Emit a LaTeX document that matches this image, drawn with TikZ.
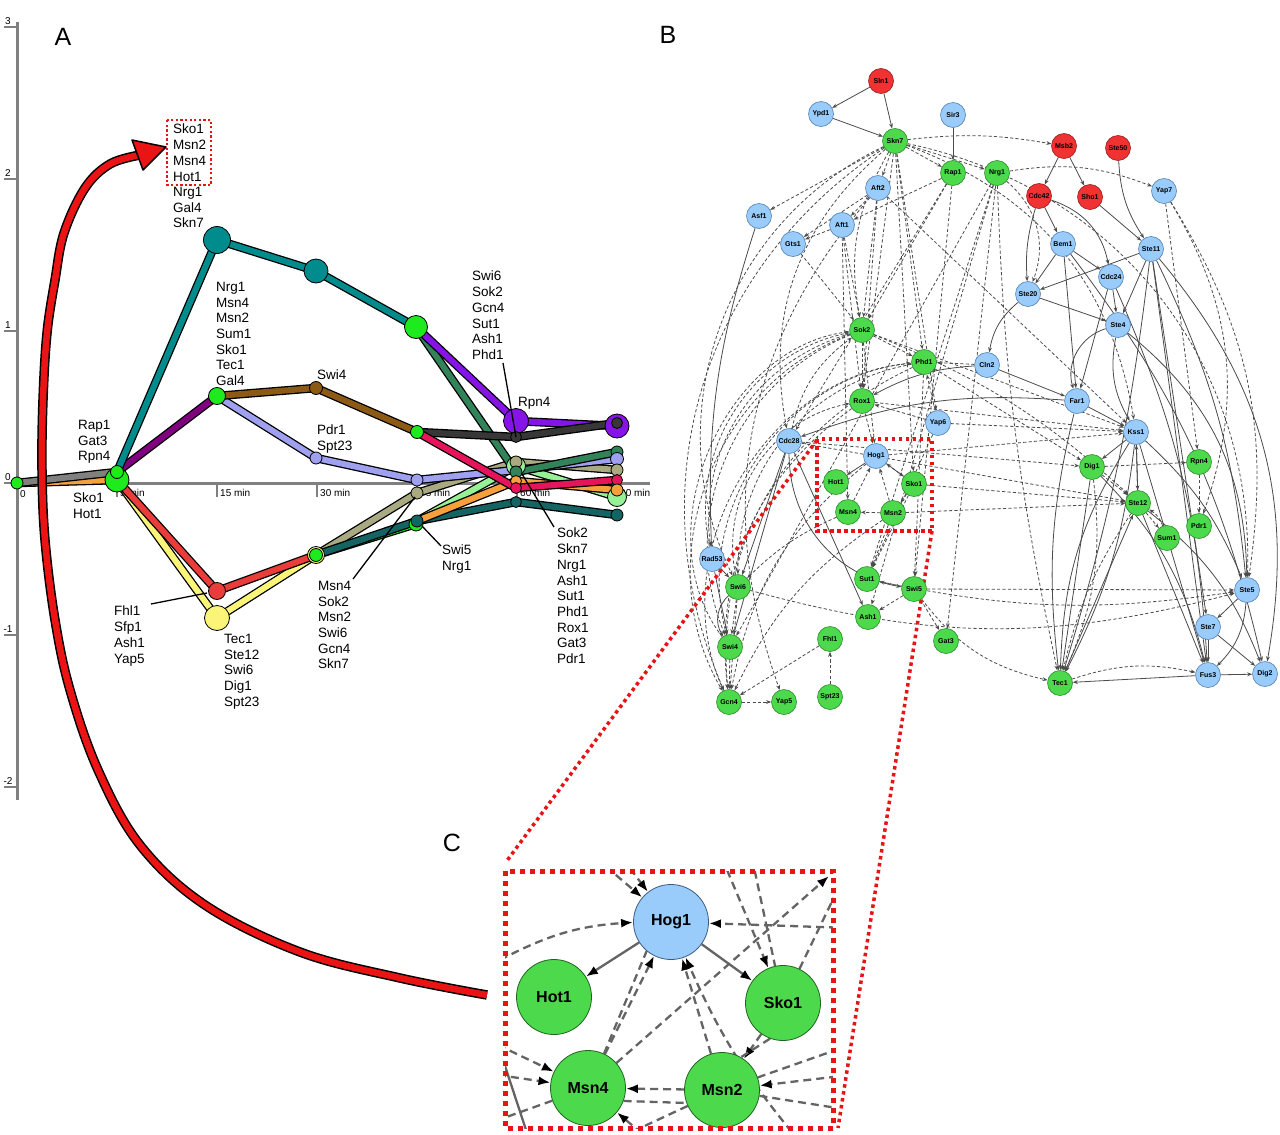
\documentclass[tikz,border=0pt]{standalone}
\usepackage{fontspec}
\setmainfont{Liberation Sans}
\usetikzlibrary{arrows.meta}
\pgfdeclarelayer{bottomlayer}
\pgfdeclarelayer{bglayer}
\pgfsetlayers{bottomlayer,bglayer,main}
\definecolor{ngreen}{RGB}{76,217,76}
\definecolor{ngreenD}{RGB}{45,140,45}
\definecolor{nblue}{RGB}{153,204,250}
\definecolor{nblueD}{RGB}{85,130,180}
\definecolor{nred}{RGB}{240,50,50}
\definecolor{nredD}{RGB}{150,30,30}
\definecolor{agreen}{RGB}{30,235,30}
\definecolor{ateal}{RGB}{0,140,140}
\definecolor{aseag}{RGB}{50,130,90}
\definecolor{aviolet}{RGB}{135,20,230}
\definecolor{apurple}{RGB}{128,0,128}
\definecolor{abrown}{RGB}{140,90,20}
\definecolor{alav}{RGB}{160,160,240}
\definecolor{adark}{RGB}{55,55,55}
\definecolor{acrim}{RGB}{230,20,90}
\definecolor{ared}{RGB}{235,60,60}
\definecolor{ayellow}{RGB}{250,245,120}
\definecolor{akhaki}{RGB}{170,170,130}
\definecolor{adteal}{RGB}{20,100,100}
\definecolor{altgreen}{RGB}{150,240,150}
\definecolor{aorange}{RGB}{245,160,60}
\definecolor{agray}{RGB}{128,128,128}
\definecolor{edgegray}{RGB}{75,75,75}
\definecolor{cgray}{RGB}{100,100,100}
\definecolor{bigred}{RGB}{235,20,20}
\definecolor{dotred}{RGB}{230,20,20}
\begin{document}
\begin{tikzpicture}[x=1pt,y=-1pt,
  apt/.style={circle,draw=black,line width=0.8,inner sep=0,minimum size=#1},
  ser/.style={line width=6,line join=round,preaction={draw=black,line width=8.6,line join=round}},
  atext/.style={anchor=north west,align=left,inner sep=0,font=\fontsize{13.5}{15.7}\selectfont},
  leader/.style={draw=black,line width=1.3},
  axis/.style={draw=agray,line width=3},
  ticklab/.style={inner sep=0,font=\fontsize{10}{12}\selectfont},
  panel/.style={inner sep=0,font=\fontsize{25}{28}\selectfont},
  bnode/.style={circle,minimum size=25,inner sep=0,line width=0.6,font=\bfseries\fontsize{7}{8}\selectfont},
  gn/.style={bnode,fill=ngreen,draw=ngreenD},
  bl/.style={bnode,fill=nblue,draw=nblueD},
  rd/.style={bnode,fill=nred,draw=nredD},
  sedge/.style={draw=edgegray,line width=0.8,-{Stealth[length=5pt,width=3.8pt]}},
  dedge/.style={sedge,dash pattern=on 3.2pt off 2.2pt},
  reddot/.style={draw=dotred,line width=3.5,dash pattern=on 3.5pt off 3.5pt},
  cnode/.style={circle,minimum size=75,inner sep=0,line width=0.8,font=\bfseries\fontsize{16}{18}\selectfont},
  cgn/.style={cnode,fill=ngreen,draw=ngreenD!70!black},
  cbl/.style={cnode,fill=nblue,draw=nblueD!70!black},
  cedge/.style={draw=cgray,line width=2.3,dash pattern=on 8pt off 5pt,-{Latex[length=12pt,width=9pt,color=black]}},
  csolid/.style={draw=cgray,line width=2.3,-{Latex[length=12pt,width=9pt,color=black]}},
  cline/.style={draw=cgray,line width=2.3,dash pattern=on 8pt off 5pt}
]
\useasboundingbox (0,0) rectangle (1280,1135);
\begin{pgfonlayer}{bottomlayer}
\fill[white] (0,0) rectangle (1280,1135);
\end{pgfonlayer}

% ================= Panel A =================
\node[panel] (labA) at (63,37) {A};
\draw[axis] (17,22) -- (17,800);
\foreach \yy/\lab in {27/3,179/2,331/1,483/0,635/-1,787/-2}{
  \draw[axis,line width=2.5] (4,\yy) -- (17,\yy);
  \node[ticklab,anchor=south] at (8,\yy-2) {\lab};
}
\draw[axis] (17,483) -- (650,483);
\node[ticklab,anchor=west] (x0) at (20,494) {0};
\foreach \xx/\lab in {117/5 min,217/15 min,317/30 min,417/45 min,517/60 min,617/90 min}{
  \draw[axis,line width=2.5] (\xx,483) -- (\xx,497);
  \node[ticklab,anchor=west] at (\xx+3,493) {\lab};
}

\coordinate (p0) at (17,483);
\coordinate (p5s) at (117,472);
\coordinate (p5b) at (117,480);
\coordinate (t1) at (217,240);
\coordinate (t2) at (316,271);
\coordinate (g45) at (416,327);
\coordinate (g15) at (217,396);
\coordinate (br30) at (316,388);
\coordinate (g45b) at (417,432);
\coordinate (lv30) at (316,458);
\coordinate (lv45) at (417,480);
\coordinate (vi60) at (516,421);
\coordinate (dk60) at (516,437);
\coordinate (vi90) at (617,426);
\coordinate (dk90) at (617,423);
\coordinate (lg60) at (516,466);
\coordinate (kh60) at (516,462);
\coordinate (sg60) at (516,472);
\coordinate (or60) at (516,481);
\coordinate (cr60) at (516,488);
\coordinate (dt60) at (516,502);
\coordinate (lv60) at (516,470);
\coordinate (sg90) at (617,452);
\coordinate (lv90) at (617,459);
\coordinate (kh90) at (617,470);
\coordinate (cr90) at (617,480);
\coordinate (or90) at (617,490);
\coordinate (lg90) at (617,497);
\coordinate (dt90) at (617,515);
\coordinate (kh45) at (417,493);
\coordinate (dt45) at (417,521);
\coordinate (g45c) at (416,524);
\coordinate (rd15) at (217,591);
\coordinate (ye15) at (217,618);
\coordinate (g30) at (316,555);

\draw[ser,aorange] (p0) -- (p5b);
\draw[ser,agray] (p0) -- (p5s);
\draw[ser,ayellow] (p5b) -- (ye15) -- (g30);
\draw[ser,ared] (p5b) -- (rd15) -- (g30);
\draw[ser,akhaki] (g30) -- (kh45) -- (kh60) -- (kh90);
\draw[ser,agreen] (g30) -- (g45c);
\draw[ser,adteal] (g30) -- (dt45) -- (dt60) -- (dt90);
\draw[ser,altgreen] (dt45) -- (lg60) -- (lg90);
\draw[ser,aorange] (dt45) -- (or60) -- (or90);
\draw[ser,apurple] (p5s) -- (g15);
\draw[ser,ateal] (p5s) -- (t1) -- (t2) -- (g45);
\draw[ser,alav] (g15) -- (lv30) -- (lv45) -- (lv60) -- (lv90);
\draw[ser,abrown] (g15) -- (br30) -- (g45b);
\draw[ser,aseag] (g45) -- (sg60) -- (sg90);
\draw[ser,aviolet] (g45) -- (vi60) -- (vi90);
\draw[ser,adark] (g45b) -- (dk60) -- (dk90);
\draw[ser,acrim] (g45b) -- (cr60) -- (cr90);

\node[apt=12,fill=agreen] (n0) at (p0) {};
\node[apt=24,fill=agreen] (n5b) at (p5b) {};
\node[apt=13,fill=agreen] (n5s) at (p5s) {};
\node[apt=27,fill=ateal] (nt1) at (t1) {};
\node[apt=24,fill=ateal] (nt2) at (t2) {};
\node[apt=23,fill=agreen] (ng45) at (g45) {};
\node[apt=17,fill=agreen] (ng15) at (g15) {};
\node[apt=13,fill=abrown] (nbr30) at (br30) {};
\node[apt=13,fill=agreen] (ng45b) at (g45b) {};
\node[apt=12,fill=alav] (nlv30) at (lv30) {};
\node[apt=12,fill=alav] (nlv45) at (lv45) {};
\node[apt=25,fill=aviolet] (nvi60) at (vi60) {};
\node[apt=11,fill=adark] (ndk60) at (dk60) {};
\node[apt=24,fill=aviolet] (nvi90) at (vi90) {};
\node[apt=11,fill=adark] (ndk90) at (dk90) {};
\node[apt=19,fill=altgreen] (nlg60) at (lg60) {};
\node[apt=12,fill=akhaki] (nkh60) at (kh60) {};
\node[apt=12,fill=aseag] (nsg60) at (sg60) {};
\node[apt=11,fill=aorange] (nor60) at (or60) {};
\node[apt=11,fill=acrim] (ncr60) at (cr60) {};
\node[apt=11,fill=adteal] (ndt60) at (dt60) {};
\node[apt=12,fill=aseag] (nsg90) at (sg90) {};
\node[apt=13,fill=alav] (nlv90) at (lv90) {};
\node[apt=12,fill=akhaki] (nkh90) at (kh90) {};
\node[apt=19,fill=altgreen] (nlg90) at (lg90) {};
\node[apt=11,fill=acrim] (ncr90) at (cr90) {};
\node[apt=12,fill=aorange] (nor90) at (or90) {};
\node[apt=12,fill=adteal] (ndt90) at (dt90) {};
\node[apt=12,fill=akhaki] (nkh45) at (kh45) {};
\node[apt=14,fill=agreen] (ng45c) at (g45c) {};
\node[apt=12,fill=adteal] (ndt45) at (dt45) {};
\node[apt=17,fill=ared] (nrd15) at (rd15) {};
\node[apt=25,fill=ayellow] (nye15) at (ye15) {};
\node[apt=17,fill=ayellow] (ny30) at (g30) {};
\node[apt=13,fill=agreen] (ng30) at (g30) {};

\node[atext] (tBox) at (173,124) {Sko1\\Msn2\\Msn4\\Hot1};
\draw[draw=dotred,line width=2.3,dash pattern=on 2.3pt off 2.3pt] (167,120) rectangle (211,185);
\node[atext] (tNrg) at (173,187) {Nrg1\\Gal4\\Skn7};
\node[atext] (t15) at (216,282) {Nrg1\\Msn4\\Msn2\\Sum1\\Sko1\\Tec1\\Gal4};
\node[atext] (tRap) at (78,420) {Rap1\\Gat3\\Rpn4};
\node[atext] (tSko) at (73,493) {Sko1\\Hot1};
\node[atext] (tSwi4) at (317,370) {Swi4};
\node[atext] (tPdr) at (317,425) {Pdr1\\Spt23};
\node[atext] (tSwi6) at (472,271) {Swi6\\Sok2\\Gcn4\\Sut1\\Ash1\\Phd1};
\node[atext] (tRpn4) at (518,397) {Rpn4};
\node[atext] (tFhl) at (114,606) {Fhl1\\Sfp1\\Ash1\\Yap5};
\node[atext] (tTec) at (224,634) {Tec1\\Ste12\\Swi6\\Dig1\\Spt23};
\node[atext] (tMsn4) at (318,581) {Msn4\\Sok2\\Msn2\\Swi6\\Gcn4\\Skn7};
\node[atext] (tSwi5) at (442,545) {Swi5\\Nrg1};
\node[atext] (tSok2) at (557,528) {Sok2\\Skn7\\Nrg1\\Ash1\\Sut1\\Phd1\\Rox1\\Gat3\\Pdr1};

\coordinate (l1a) at (151,604); \coordinate (l1b) at (207,593);
\coordinate (l2a) at (353,579); \coordinate (l2b) at (415,497);
\coordinate (l3a) at (441,546); \coordinate (l3b) at (422,526);
\coordinate (l4a) at (554,527); \coordinate (l4b) at (522,474);
\coordinate (l5a) at (503,363); \coordinate (l5b) at (516,437);
\draw[leader] (l1a) -- (l1b);
\draw[leader] (l2a) -- (l2b);
\draw[leader] (l3a) -- (l3b);
\draw[leader] (l4a) -- (l4b);
\draw[leader] (l5a) -- (l5b);

% ================= Panel B =================
\node[panel] (labB) at (668,35) {B};
\node[rd] (sln1) at (881,81) {Sln1};
\node[bl] (ypd1) at (821,114) {Ypd1};
\node[bl] (sir3) at (953,115) {Sir3};
\node[gn] (skn7) at (895,141) {Skn7};
\node[gn] (rap1) at (953,173) {Rap1};
\node[gn] (nrg1) at (997,173) {Nrg1};
\node[rd] (msb2) at (1064,146) {Msb2};
\node[rd] (ste50) at (1118,148) {Ste50};
\node[rd] (cdc42) at (1039,196) {Cdc42};
\node[rd] (sho1) at (1090,197) {Sho1};
\node[bl] (yap7) at (1164,191) {Yap7};
\node[bl] (aft2) at (878,188) {Aft2};
\node[bl] (asf1) at (759,216) {Asf1};
\node[bl] (aft1) at (842,225) {Aft1};
\node[bl] (gts1) at (793,244) {Gts1};
\node[bl] (bem1) at (1063,244) {Bem1};
\node[bl] (ste11) at (1151,249) {Ste11};
\node[bl] (cdc24) at (1111,277) {Cdc24};
\node[bl] (ste20) at (1028,294) {Ste20};
\node[bl] (ste4) at (1118,325) {Ste4};
\node[gn] (sok2) at (862,330) {Sok2};
\node[gn] (phd1) at (924,362) {Phd1};
\node[bl] (cln2) at (987,365) {Cln2};
\node[gn] (rox1) at (862,401) {Rox1};
\node[bl] (far1) at (1077,401) {Far1};
\node[bl] (yap6) at (938,423) {Yap6};
\node[bl] (cdc28) at (789,441) {Cdc28};
\node[bl] (kss1) at (1136,432) {Kss1};
\node[bl] (hog1) at (876,456) {Hog1};
\node[gn] (hot1) at (836,482) {Hot1};
\node[gn] (sko1) at (914,484) {Sko1};
\node[gn] (msn4) at (848,512) {Msn4};
\node[gn] (msn2) at (893,513) {Msn2};
\node[gn] (dig1) at (1092,467) {Dig1};
\node[gn] (rpn4) at (1199,462) {Rpn4};
\node[gn] (ste12) at (1138,503) {Ste12};
\node[gn] (pdr1) at (1199,526) {Pdr1};
\node[gn] (sum1) at (1167,538) {Sum1};
\node[bl] (rad53) at (712,559) {Rad53};
\node[gn] (swi6) at (738,587) {Swi6};
\node[gn] (sut1) at (867,579) {Sut1};
\node[gn] (swi5) at (914,589) {Swi5};
\node[gn] (ash1) at (868,617) {Ash1};
\node[gn] (fhl1) at (830,639) {Fhl1};
\node[gn] (swi4) at (730,647) {Swi4};
\node[gn] (gat3) at (946,641) {Gat3};
\node[gn] (gcn4) at (729,702) {Gcn4};
\node[gn] (yap5) at (784,702) {Yap5};
\node[gn] (spt23) at (830,697) {Spt23};
\node[bl] (ste5) at (1247,590) {Ste5};
\node[bl] (ste7) at (1208,627) {Ste7};
\node[bl] (fus3) at (1208,675) {Fus3};
\node[bl] (dig2) at (1265,674) {Dig2};
\node[gn] (tec1) at (1060,683) {Tec1};

\begin{pgfonlayer}{bglayer}
\foreach \a/\b in {sln1/ypd1,sln1/skn7,ypd1/skn7,sir3/rap1,msb2/cdc42,msb2/sho1,sho1/ste11,cdc42/bem1,bem1/ste20,bem1/cdc24,ste11/ste20,cdc24/ste4,ste20/ste4,bem1/far1,cdc24/far1,cln2/far1,far1/kss1,kss1/dig1,kss1/ste12,ste5/ste7,ste7/fus3,fus3/dig2,fus3/tec1,hog1/hot1,hog1/sko1,cdc28/swi4,cdc28/swi6,cdc28/ash1,rad53/swi4,tec1/ste12,dig1/tec1,kss1/fus3,ste11/ste7,ste11/fus3,ste7/dig2,ste12/fus3,ste11/ste4,ste12/kss1,rad53/swi6}
  \draw[sedge] (\a) -- (\b);
\foreach \a/\b/\c in {ste50/ste11/15,cdc42/ste20/10,cdc42/cdc24/-30,ste20/cln2/20,ste4/far1/45,ste4/kss1/20,asf1/rad53/10,far1/cdc28/12,cln2/rox1/12,cdc28/swi5/40,ste4/ste5/-25,ste11/dig2/-25,kss1/tec1/15,ste5/fus3/-20,bem1/dig2/-12,cdc24/fus3/-10,kss1/ste5/-12,ste12/dig2/-15,ste11/ste5/-10,swi6/swi4/40,dig1/fus3/-15,far1/tec1/10,kss1/tec1/-10,ste11/tec1/-5}
  \draw[sedge] (\a) to[bend right=\c] (\b);
\foreach \a/\b in {skn7/asf1,skn7/aft2,skn7/rap1,skn7/nrg1,skn7/phd1,skn7/yap6,aft2/aft1,aft2/gts1,aft1/gts1,aft2/sok2,aft1/sok2,gts1/sok2,rap1/aft1,rap1/sok2,sok2/phd1,cln2/phd1,yap6/phd1,yap6/rox1,sok2/rox1,aft1/rox1,yap6/kss1,sok2/hog1,rox1/hog1,msn4/hog1,msn2/hog1,sko1/msn2,msn2/msn4,msn2/sut1,swi5/ash1,swi5/gat3,spt23/fhl1,gcn4/yap5,fhl1/gcn4,swi4/gcn4,swi6/gcn4,swi6/swi4,dig1/rpn4,rpn4/pdr1,ste12/sum1,dig1/ste12,yap7/rpn4,rap1/swi5,nrg1/gat3,nrg1/sut1,swi5/sut1,rox1/kss1,hog1/kss1,sko1/ste12,msn2/ste12,swi5/ste5,cdc28/ste12,sok2/kss1,phd1/dig1,skn7/rox1,sko1/sut1,yap6/sut1,aft2/kss1,rap1/cdc28,nrg1/swi4,sko1/hog1,cdc28/dig1,aft1/msn4,aft2/rox1,skn7/sko1,nrg1/ash1,phd1/swi5}
  \draw[dedge] (\a) -- (\b);
\foreach \a/\b/\c in {skn7/msb2/-8,nrg1/yap7/-15,nrg1/ste20/-35,yap7/pdr1/-25,skn7/sok2/20,skn7/cdc28/30,skn7/gcn4/40,sok2/gcn4/50,sok2/swi4/45,phd1/swi6/40,rox1/gcn4/30,phd1/gcn4/35,swi4/sok2/-60,swi6/rox1/-45,sok2/rad53/40,hog1/gcn4/20,msn2/gcn4/15,swi5/tec1/20,tec1/fus3/-15,sut1/ste5/10,swi6/ste5/15,skn7/kss1/-30,sok2/ste12/-10,nrg1/tec1/5,gcn4/phd1/-55,swi4/phd1/-50,rad53/sok2/-45,skn7/swi6/45,aft2/yap5/30,skn7/ste5/-40,ste12/tec1/10,dig1/tec1/-15,sum1/ste12/20,msn4/swi6/10,cdc28/sok2/-20,yap7/ste5/-20}
  \draw[dedge] (\a) to[bend right=\c] (\b);
% link lines from B to C
\coordinate (bTL) at (817,440);
\coordinate (cTL) at (506,862);
\coordinate (bBR) at (932,531);
\coordinate (cBR) at (838,1128);
\draw[reddot] (bTL) -- (cTL);
\draw[reddot] (bBR) -- (cBR);
\end{pgfonlayer}
\draw[reddot] (817,439) rectangle (932,531);

% ================= Panel C =================
\node[panel] (labC) at (452,843) {C};
\node[cbl] (cHog1) at (671,922) {Hog1};
\node[cgn] (cHot1) at (554,997) {Hot1};
\node[cgn] (cSko1) at (783,1003) {Sko1};
\node[cgn] (cMsn4) at (588,1088) {Msn4};
\node[cgn] (cMsn2) at (722,1090) {Msn2};
\coordinate (cc1) at (596,858);
\coordinate (cc2) at (622,858);
\coordinate (cc3) at (500,960);
\coordinate (cc4) at (850,928);
\coordinate (cc5) at (722,858);
\coordinate (cc6) at (829,876);
\coordinate (cc6b) at (852,860);
\coordinate (cc7) at (850,1075);
\coordinate (cc8) at (498,1045);
\coordinate (cc9) at (498,1075);
\coordinate (cc10) at (498,1120);
\coordinate (cc11) at (800,1142);
\coordinate (cc12) at (652,1142);
\coordinate (cc13) at (850,1110);
\coordinate (cc14) at (752,858);
\coordinate (cc15) at (850,1045);
\coordinate (cc16) at (610,1142);
\coordinate (cc17) at (505,1066);
\coordinate (cc18) at (530,1142);
\coordinate (cc19) at (830,858);
\coordinate (cc20) at (850,905);
\begin{pgfonlayer}{bglayer}
\begin{scope}
\clip (505,871) rectangle (833,1128);
\draw[cedge] (cc1) -- (cHog1);
\draw[cedge] (cc2) -- (cHog1);
\draw[cedge] (cc3) to[bend left=12] (cHog1);
\draw[csolid] (cHog1) -- (cHot1);
\draw[csolid] (cHog1) -- (cSko1);
\draw[cedge] (cMsn4) -- (cHog1);
\draw[cline] (cMsn4.65) -- (cHog1.230);
\draw[cedge] (cMsn4) -- (cc6);
\draw[cedge] (cMsn2) -- (cHog1);
\draw[cedge] (cc11) to[bend left=8] (cHog1);
\draw[cedge] (cc4) -- (cHog1);
\draw[cedge] (cc5) -- (cSko1);
\draw[cline] (cc14) -- (cSko1);
\draw[cline] (cSko1) -- (cc6b);
\draw[cline] (cc19) -- (cc20);
\draw[cedge] (cSko1) -- (cMsn2);
\draw[cline] (cSko1.250) -- (cMsn2.60);
\draw[cedge] (cc7) -- (cMsn2);
\draw[cline] (cMsn2) -- (cc15);
\draw[cedge] (cMsn2) -- (cMsn4);
\draw[cedge] (cc8) -- (cMsn4);
\draw[cedge] (cc9) -- (cMsn4);
\draw[cline] (cMsn4) -- (cc10);
\draw[cedge] (cc12) -- (cMsn4);
\draw[cline] (cMsn2) -- (cc13);
\draw[cline] (cMsn2) -- (cc16);
\draw[cline] (cMsn4.-20) -- (cMsn2.200);
\draw[draw=cgray,line width=2.3] (cc17) -- (cc18);
\end{scope}
\end{pgfonlayer}
\draw[reddot,line width=5,dash pattern=on 5pt off 5pt] (505,871) rectangle (833,1128);

% ================= Big red arrow =================
\draw[bigred,line width=6.5,line cap=butt,preaction={draw=black,line width=9.5}]
  plot[smooth,tension=0.6] coordinates {(487,995) (400,978) (300,952) (205,905) (140,845) (98,770) (70,690) (55,620) (45,540) (42,470) (43,400) (47,333) (55,280) (64,233) (85,188) (110,164) (140,155)};
\filldraw[fill=bigred,draw=black,line width=1.5,line join=round] (166,147) -- (132,140) -- (143,170) -- cycle;
\end{tikzpicture}
\end{document}
